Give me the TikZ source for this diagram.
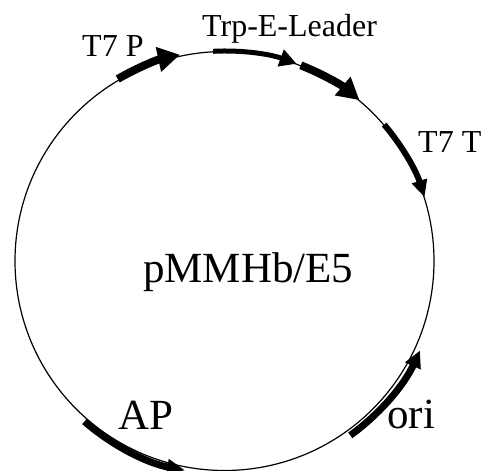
\documentclass[tikz,border=0pt]{standalone}
\usepackage{fontspec}
\setmainfont{Liberation Serif}
\usetikzlibrary{arrows.meta}
\begin{document}
\begin{tikzpicture}[x=1pt,y=1pt,
  backbone/.style={line width=1.2pt},
  gene/.style={line width=#1, line cap=butt},
  lbl/.style={anchor=base west, inner sep=0pt, font=\fontsize{32}{36}\selectfont},
  biglbl/.style={anchor=base west, inner sep=0pt, font=\fontsize{43}{48}\selectfont}]
\useasboundingbox (0,0) rectangle (482,471);
\coordinate (c) at (224.5,210);
\draw[backbone] (c) circle[radius=209.5];
% T7 P
\draw[gene=8pt, -{Triangle[length=22pt,width=24pt]}] (c) ++(120.4:211) arc[start angle=120.4, end angle=102.2, radius=211];
% Trp-E-Leader (two segments)
\draw[gene=5pt, -{Triangle[length=17pt,width=17pt]}] (c) ++(93.1:210) arc[start angle=93.1, end angle=69.9, radius=210];
\draw[gene=8pt, -{Triangle[length=22pt,width=23pt]}] (c) ++(68.7:210) arc[start angle=68.7, end angle=50.0, radius=210];
% T7 T
\draw[gene=6pt, -{Triangle[length=17pt,width=15pt]}] (c) ++(40.5:210) arc[start angle=40.5, end angle=17.7, radius=210];
% AP
\draw[gene=7pt, -{Triangle[length=18pt,width=15pt]}] (c) ++(228.9:213) arc[start angle=228.9, end angle=259.3, radius=213];
% ori
\draw[gene=7pt, -{Triangle[length=17pt,width=16pt]}] (c) ++(305.8:215) arc[start angle=305.8, end angle=335.4, radius=215];
% labels
\node[lbl] (t7p) at (82,414) {T7 P};
\node[lbl] (trp) at (202,434) {Trp-E-Leader};
\node[lbl] (t7t) at (418,318) {T7 T};
\node[biglbl] (name) at (143,188) {pMMHb/E5};
\node[biglbl] (ap) at (118,41) {AP};
\node[biglbl] (ori) at (387,42) {ori};
\end{tikzpicture}
\end{document}
